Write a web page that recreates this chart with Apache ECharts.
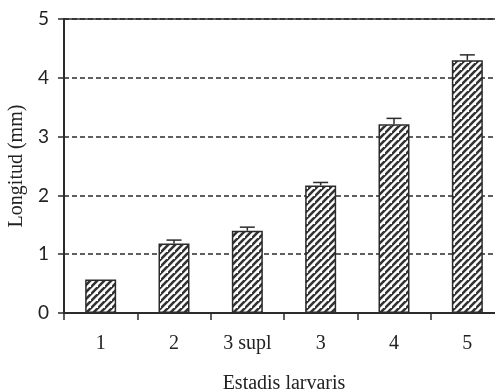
<!DOCTYPE html>
<html>
<head>
<meta charset="utf-8">
<script src="https://cdn.jsdelivr.net/npm/echarts@6/dist/echarts.min.js"></script>
<style>
  html, body { margin: 0; padding: 0; background: #fff; }
  #chart { width: 495px; height: 391px; }
</style>
</head>
<body>
<div id="chart"></div>
<script>
// Larval stage lengths (mm), mean with upper error
const categories = ['1', '2', '3 supl', '3', '4', '5'];
const meanLength = [0.57, 1.18, 1.40, 2.17, 3.21, 4.30];
const errLength = [0, 0.06, 0.06, 0.05, 0.10, 0.09];
const yTicks = [0, 1, 2, 3, 4, 5];

// Diagonal hatch fill for the bars
function hatch() {
  const c = document.createElement('canvas');
  const s = 7;
  c.width = s; c.height = s;
  const g = c.getContext('2d');
  g.fillStyle = '#ffffff';
  g.fillRect(0, 0, s, s);
  g.strokeStyle = '#333333';
  g.lineWidth = 2.6;
  g.beginPath();
  g.moveTo(-1, s + 1); g.lineTo(s + 1, -1);
  g.moveTo(-1 - s, s + 1); g.lineTo(1, -1);
  g.moveTo(s - 1, 2 * s + 1); g.lineTo(2 * s + 1, s - 1);
  g.stroke();
  return c;
}

const chart = echarts.init(document.getElementById('chart'), null, { renderer: 'canvas' });
const dark = '#2b2b2b';

chart.setOption({
  animation: false,
  grid: {
    left: 64, top: 19, width: 440, height: 294,
    containLabel: false,
    outerBoundsMode: 'none',
    show: true, borderColor: dark, borderWidth: 1.5, backgroundColor: 'transparent'
  },
  xAxis: {
    type: 'category',
    data: categories,
    name: 'Estadis larvaris',
    nameLocation: 'middle',
    nameGap: 61,
    nameTextStyle: { fontFamily: 'Liberation Serif', fontSize: 20, color: '#222' },
    axisLine: { lineStyle: { color: dark, width: 2 } },
    axisTick: { show: true, length: 7, lineStyle: { color: dark, width: 1.5 } },
    axisLabel: { fontFamily: 'Liberation Serif', fontSize: 20, color: '#222', margin: 21 }
  },
  yAxis: {
    type: 'value',
    min: yTicks[0],
    max: yTicks[yTicks.length - 1],
    interval: 1,
    name: 'Longitud (mm)',
    nameLocation: 'middle',
    nameGap: 37,
    nameTextStyle: { fontFamily: 'Liberation Serif', fontSize: 20, color: '#222' },
    axisLine: { show: true, lineStyle: { color: dark, width: 2 } },
    axisTick: { show: true, length: 6, lineStyle: { color: dark, width: 1.5 } },
    axisLabel: { fontFamily: 'Lato', fontSize: 19, color: '#222', margin: 15 },
    splitLine: { show: true, lineStyle: { color: dark, width: 1.5, type: [5, 3] } }
  },
  series: [
    {
      type: 'bar',
      data: meanLength,
      barWidth: 31,
      itemStyle: {
        color: { image: hatch(), repeat: 'repeat' },
        borderColor: dark,
        borderWidth: 1.5
      },
      z: 2
    },
    {
      type: 'custom',
      data: meanLength.map((m, i) => [i, m, m + errLength[i]]),
      z: 3,
      renderItem: function (params, api) {
        const i = api.value(0);
        if (errLength[i] <= 0) return null;
        const lo = api.coord([i, api.value(1)]);
        const hi = api.coord([i, api.value(2)]);
        const half = 7.5;
        const style = { stroke: dark, lineWidth: 1.5 };
        return {
          type: 'group',
          children: [
            { type: 'line', shape: { x1: lo[0], y1: lo[1], x2: hi[0], y2: hi[1] }, style },
            { type: 'line', shape: { x1: hi[0] - half, y1: hi[1], x2: hi[0] + half, y2: hi[1] }, style }
          ]
        };
      }
    }
  ]
});
</script>
</body>
</html>
